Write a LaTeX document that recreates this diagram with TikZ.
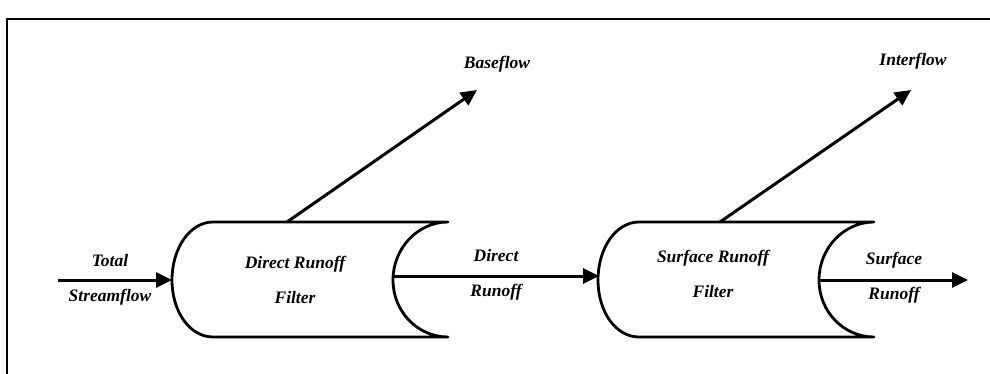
\documentclass[tikz,border=0pt]{standalone}
\usepackage{fontspec}
\setmainfont{Liberation Serif}
\usetikzlibrary{arrows.meta}

\tikzset{
  flowlbl/.style={font=\fontsize{17.5}{35}\selectfont\bfseries\itshape, align=center, inner sep=0pt},
  outline/.style={line width=2.8pt, line join=round},
  flowarrow/.style={line width=3pt, -{Triangle[length=16pt,width=15pt]}},
  % filter drum: convex left end, concave right end
  filterbox/.pic={
    \draw[outline, fill=white]
      (213,222) -- (448,222)
      .. controls (418,222) and (393,248) .. (393,280)
      .. controls (393,312) and (418,337) .. (448,337)
      -- (213,337)
      .. controls (190,337) and (172,312) .. (172,280)
      .. controls (172,248) and (190,222) .. (213,222) -- cycle;
  }
}

\begin{document}
\begin{tikzpicture}[x=1pt, y=-1pt]
  \useasboundingbox (0,0) rectangle (990,374);

  % partial frame
  \draw[line width=2pt] (7,380) -- (7,19) -- (996,19);

  % filter drums
  \pic at (0,0) {filterbox};
  \pic at (426,0) {filterbox};

  % connection points on the drums
  \coordinate (ts)   at (58,280);
  \coordinate (d1w)  at (172,280);
  \coordinate (d1e)  at (394,276);
  \coordinate (d1t)  at (287,222);
  \coordinate (d2w)  at (599,276);
  \coordinate (d2e)  at (819,280);
  \coordinate (d2t)  at (720,222);
  \coordinate (bf)   at (477,90);
  \coordinate (if)   at (911,90);
  \coordinate (sr)   at (968,280);

  % labels
  \node[flowlbl] (total)  at (110,279.5) {Total\\Streamflow};
  \node[flowlbl] (drf)    at (295,279.5) {Direct Runoff\\Filter};
  \node[flowlbl] (dr)     at (496,274.5) {Direct\\Runoff};
  \node[flowlbl] (srf)    at (713,273.5) {Surface Runoff\\Filter};
  \node[flowlbl] (sro)    at (894,278)   {Surface\\Runoff};
  \node[flowlbl] (base)   at (497,64)    {Baseflow};
  \node[flowlbl] (inter)  at (913,61)    {Interflow};

  % flows
  \draw[flowarrow] (ts) -- (d1w);
  \draw[flowarrow] (d1e) -- (d2w);
  \draw[flowarrow] (d2e) -- (sr);
  \draw[flowarrow] (d1t) -- (bf);
  \draw[flowarrow] (d2t) -- (if);
\end{tikzpicture}
\end{document}
